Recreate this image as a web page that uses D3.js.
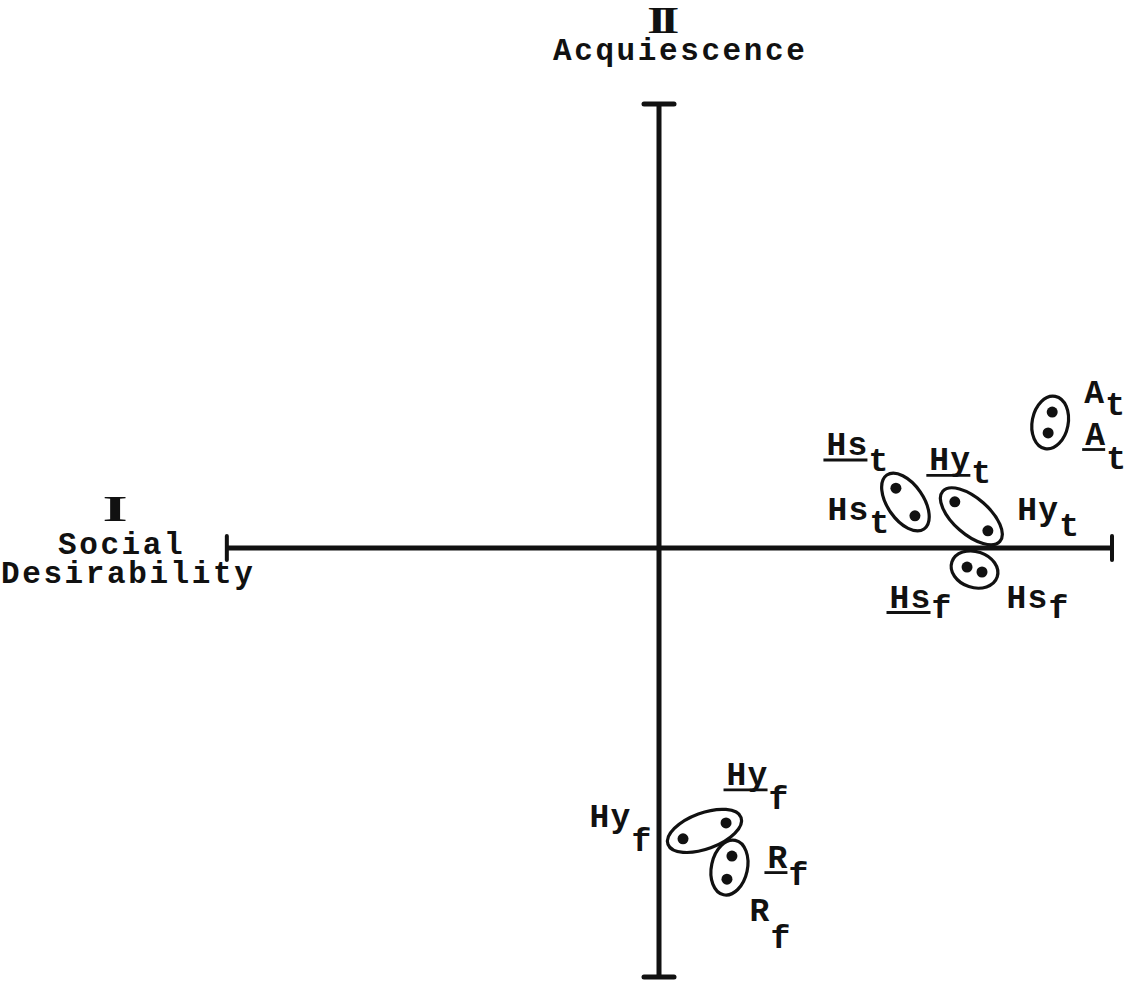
<!DOCTYPE html>
<html>
<head>
<meta charset="utf-8">
<script src="https://cdn.jsdelivr.net/npm/d3@7"></script>
<style>
  html, body { margin: 0; padding: 0; background: #fff; }
  svg { display: block; }
  .tw { font-family: "Liberation Mono", "DejaVu Sans Mono", monospace; font-weight: bold; fill: #111; }
  .roman { font-family: "Liberation Serif", "DejaVu Serif", serif; font-weight: bold; fill: #111; }
</style>
</head>
<body>
<svg id="chart" width="1127" height="982"></svg>
<script>
// ---- Data: loadings on Factor I (Social Desirability) and Factor II (Acquiescence)
const clusters   = ["A_t", "Hs_t", "Hy_t", "Hs_f", "Hy_f", "R_f"];
const labelBase  = ["A", "Hs", "Hy", "Hs", "Hy", "R"];
const labelSub   = ["t", "t", "t", "f", "f", "f"];
// each cluster holds two scale versions (plain and underlined)
const factorI    = [[0.868, 0.859], [0.523, 0.565], [0.653, 0.726], [0.680, 0.713], [0.053, 0.148], [0.161, 0.150]];
const factorII   = [[0.300, 0.254], [0.132, 0.071], [0.102, 0.038], [-0.042, -0.053], [-0.642, -0.607], [-0.680, -0.731]];
const axisIExtent  = [-0.954, 1.0];
const axisIIExtent = [-0.947, 0.98];
const axisNames  = { I: ["Social", "Desirability"], II: ["Acquiescence"] };
const romanI = "I", romanII = "II";

// ---- Layout (pixel offsets of labels relative to cluster centre)
const layout = {
  "A_t":  { plain: {dx: 34,  dy: -20, sdy: 12}, under: {dx: 35,  dy: 22,  sdy: 24} },
  "Hs_t": { plain: {dx: -78, dy: 18,  sdy: 13}, under: {dx: -79, dy: -47, sdy: 16} },
  "Hy_t": { plain: {dx: 46,  dy: 4,   sdy: 16}, under: {dx: -42, dy: -46, sdy: 13} },
  "Hs_f": { plain: {dx: 32,  dy: 38,  sdy: 10}, under: {dx: -85, dy: 38,  sdy: 10} },
  "Hy_f": { plain: {dx: -115,dy: -4,  sdy: 24}, under: {dx: 22,  dy: -46, sdy: 24} },
  "R_f":  { plain: {dx: 20,  dy: 53,  sdy: 27}, under: {dx: 38,  dy: 0,   sdy: 17} }
};

const svg = d3.select("#chart");
const x = d3.scaleLinear().domain([-1, 1]).range([206, 1112]);
const y = d3.scaleLinear().domain([-1, 1]).range([1001, 95]);
const ink = "#111";

// ---- Axes
const g = svg.append("g");
g.append("line").attr("x1", x(axisIExtent[0])).attr("x2", x(axisIExtent[1]))
  .attr("y1", y(0)).attr("y2", y(0)).attr("stroke", ink).attr("stroke-width", 5);
g.append("line").attr("x1", x(0)).attr("x2", x(0))
  .attr("y1", y(axisIIExtent[1])).attr("y2", y(axisIIExtent[0])).attr("stroke", ink).attr("stroke-width", 5);
axisIExtent.forEach(v => {
  g.append("line").attr("x1", x(v)).attr("x2", x(v)).attr("y1", y(0) - 12).attr("y2", y(0) + 12)
    .attr("stroke", ink).attr("stroke-width", 4).attr("stroke-linecap", "round");
});
axisIIExtent.forEach(v => {
  g.append("line").attr("x1", x(0) - 15).attr("x2", x(0) + 15).attr("y1", y(v)).attr("y2", y(v))
    .attr("stroke", ink).attr("stroke-width", 5).attr("stroke-linecap", "round");
});

// ---- Axis titles
svg.append("text").attr("class", "roman")
  .attr("transform", `translate(${x(0) + 1},33) scale(1.3,1)`)
  .attr("text-anchor", "middle").attr("font-size", 38).attr("letter-spacing", -5).text(romanII);
svg.append("text").attr("class", "tw").attr("x", 553).attr("y", 60)
  .attr("font-size", 31).attr("letter-spacing", 2.6).text(axisNames.II[0]);
svg.append("text").attr("class", "roman")
  .attr("transform", "translate(115,521) scale(1.8,1)")
  .attr("text-anchor", "middle").attr("font-size", 36).text(romanI);
svg.append("text").attr("class", "tw").attr("x", 58).attr("y", 554)
  .attr("font-size", 31).attr("letter-spacing", 2.6).text(axisNames.I[0]);
svg.append("text").attr("class", "tw").attr("x", 1).attr("y", 583)
  .attr("font-size", 31).attr("letter-spacing", 2.6).text(axisNames.I[1]);

// ---- Clusters
const fs = 33;
const adv = fs * 0.6 + 1.2;
clusters.forEach((name, i) => {
  const px = factorI[i].map(v => x(v));
  const py = factorII[i].map(v => y(v));
  const cx = (px[0] + px[1]) / 2, cy = (py[0] + py[1]) / 2;
  const ddx = px[1] - px[0], ddy = py[1] - py[0];
  const ang = Math.atan2(ddy, ddx) * 180 / Math.PI;
  const half = Math.hypot(ddx, ddy) / 2;
  svg.append("ellipse")
    .attr("transform", `translate(${cx},${cy}) rotate(${ang})`)
    .attr("rx", half + 16).attr("ry", 18)
    .attr("fill", "none").attr("stroke", ink).attr("stroke-width", 3.2);
  svg.selectAll(null).data([0, 1]).enter().append("circle")
    .attr("cx", k => px[k]).attr("cy", k => py[k]).attr("r", 5.5).attr("fill", ink);

  const L = layout[name];
  ["plain", "under"].forEach(kind => {
    const o = L[kind];
    const tx = cx + o.dx, ty = cy + o.dy;
    const base = labelBase[i];
    svg.append("text").attr("class", "tw").attr("x", tx).attr("y", ty)
      .attr("font-size", fs).attr("letter-spacing", 1.2).text(base);
    const sx = tx + base.length * adv;
    svg.append("text").attr("class", "tw").attr("x", sx).attr("y", ty + o.sdy)
      .attr("font-size", fs).text(labelSub[i]);
    if (kind === "under") {
      svg.append("line").attr("x1", tx - 3).attr("x2", sx - 1)
        .attr("y1", ty + 5).attr("y2", ty + 5)
        .attr("stroke", ink).attr("stroke-width", 2.8);
    }
  });
});
</script>
</body>
</html>
